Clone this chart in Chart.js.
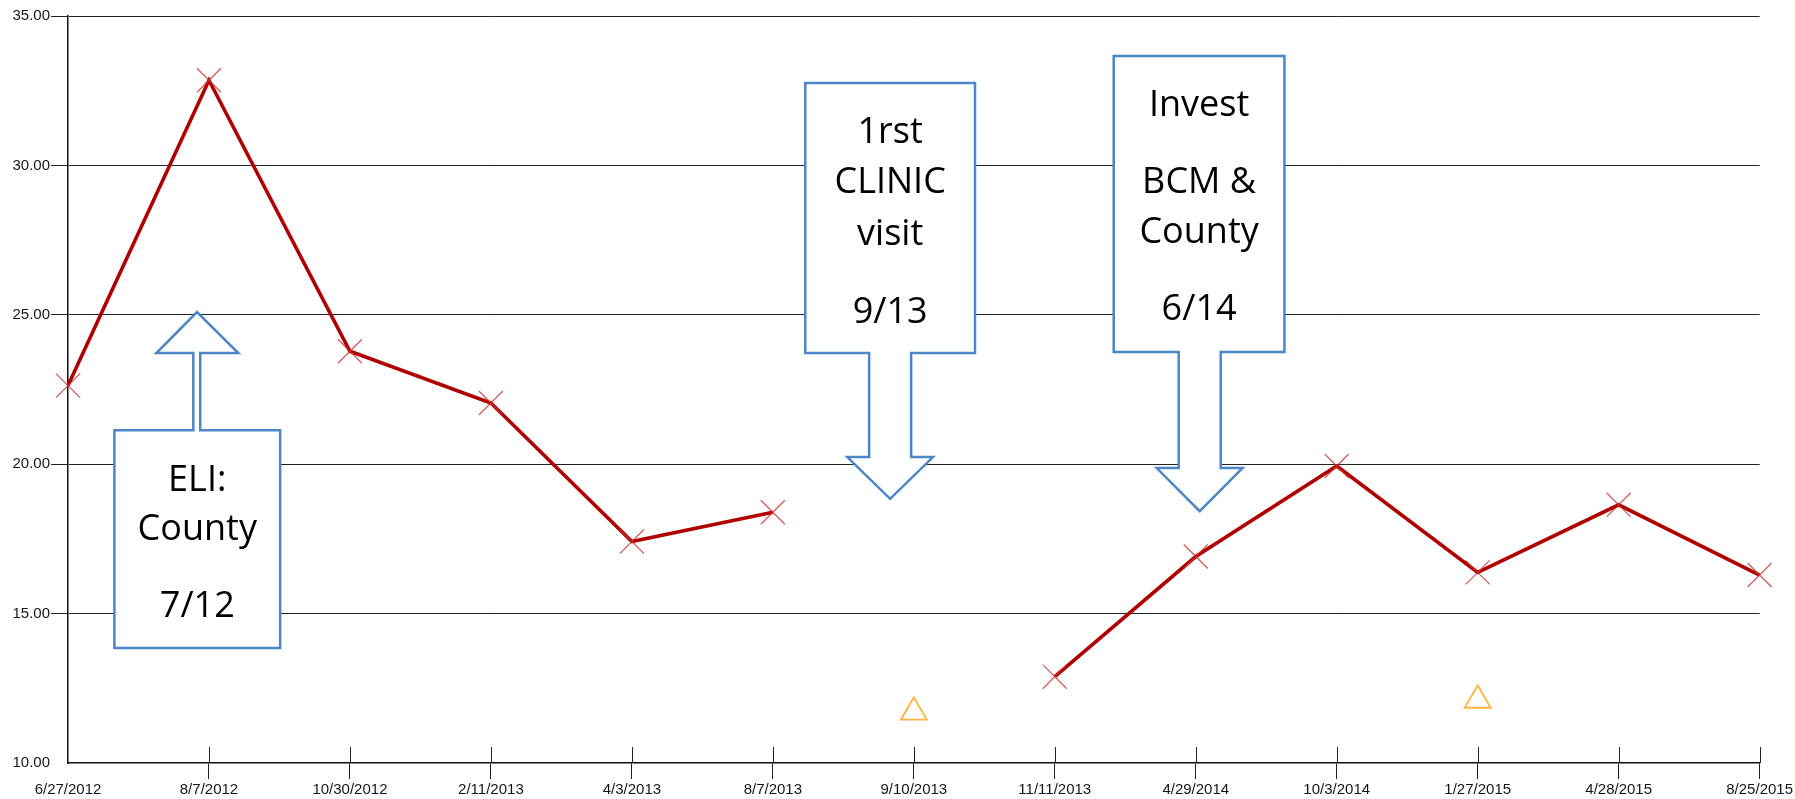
<!DOCTYPE html>
<html>
<head>
<meta charset="utf-8">
<script src="https://cdn.jsdelivr.net/npm/chart.js@4/dist/chart.umd.min.js"></script>
<style>
  html, body { margin: 0; padding: 0; background: #fff; }
  canvas { display: block; }
</style>
</head>
<body>
<canvas id="scoreChart" width="1795" height="799"></canvas>
<script>
const dates = ['6/27/2012', '8/7/2012', '10/30/2012', '2/11/2013', '4/3/2013', '8/7/2013', '9/10/2013',
               '11/11/2013', '4/29/2014', '10/3/2014', '1/27/2015', '4/28/2015', '8/25/2015'];
const scores = [22.63, 32.85, 23.78, 22.05, 17.41, 18.39, null, 12.89, 16.91, 19.94, 16.38, 18.64, 16.29];
const flags = [null, null, null, null, null, null, 11.7, null, null, null, 12.1, null, null];
const yTicks = [10, 15, 20, 25, 30, 35];

// callouts, placed in axis units (x = category index, y = value)
const callouts = [
  { dir: 'up', box: [0.329, 1.505, 21.14, 13.85], shaft: [0.889, 0.938], head: [0.627, 1.208, 23.72], tip: [0.915, 25.09],
    lines: [['ELI:', 19.10], ['County', 17.46], ['7/12', 14.89]] },
  { dir: 'down', box: [5.230, 6.434, 32.76, 23.72], shaft: [5.683, 5.981], head: [5.528, 6.136, 20.24], tip: [5.832, 18.84],
    lines: [['1rst', 30.74], ['CLINIC', 29.07], ['visit', 27.34], ['9/13', 24.72]] },
  { dir: 'down', box: [7.418, 8.629, 33.66, 23.755], shaft: [7.879, 8.177], head: [7.723, 8.332, 19.87], tip: [8.028, 18.43],
    lines: [['Invest', 31.65], ['BCM &', 29.07], ['County', 27.39], ['6/14', 24.83]] }
];

const calloutPlugin = {
  id: 'callouts',
  beforeDatasetsDraw(chart) {
    const { ctx, scales: { x, y } } = chart;
    const px = v => x.getPixelForValue(v);
    const py = v => y.getPixelForValue(v);
    callouts.forEach(c => {
      const [bx0, bx1, byTop, byBot] = c.box;
      const edge = c.dir === 'up' ? byTop : byBot;
      const far = c.dir === 'up' ? byBot : byTop;
      ctx.save();
      ctx.beginPath();
      ctx.moveTo(px(bx0), py(far));
      ctx.lineTo(px(bx1), py(far));
      ctx.lineTo(px(bx1), py(edge));
      ctx.lineTo(px(c.shaft[1]), py(edge));
      ctx.lineTo(px(c.shaft[1]), py(c.head[2]));
      ctx.lineTo(px(c.head[1]), py(c.head[2]));
      ctx.lineTo(px(c.tip[0]), py(c.tip[1]));
      ctx.lineTo(px(c.head[0]), py(c.head[2]));
      ctx.lineTo(px(c.shaft[0]), py(c.head[2]));
      ctx.lineTo(px(c.shaft[0]), py(edge));
      ctx.lineTo(px(bx0), py(edge));
      ctx.closePath();
      ctx.fillStyle = '#fff';
      ctx.fill();
      ctx.strokeStyle = '#4a86c8';
      ctx.lineWidth = 2.5;
      ctx.lineJoin = 'miter';
      ctx.stroke();

      ctx.fillStyle = '#000';
      ctx.font = '36px "Open Sans"';
      ctx.textAlign = 'center';
      ctx.textBaseline = 'alphabetic';
      const cx = (px(bx0) + px(bx1)) / 2;
      c.lines.forEach(([t, v]) => ctx.fillText(t, cx, py(v)));
      ctx.restore();
    });
  }
};

// tick marks on the date axis also reach up into the plot
const upperTicks = {
  id: 'upperTicks',
  afterDraw(chart) {
    const { ctx, scales: { x }, chartArea } = chart;
    ctx.save();
    ctx.strokeStyle = '#222';
    ctx.lineWidth = 1;
    ctx.beginPath();
    x.ticks.forEach((t, i) => {
      if (i === 0) return;
      const xp = Math.round(x.getPixelForTick(i)) + 0.5;
      ctx.moveTo(xp, chartArea.bottom);
      ctx.lineTo(xp, chartArea.bottom - 16);
    });
    ctx.stroke();
    ctx.restore();
  }
};

new Chart(document.getElementById('scoreChart'), {
  type: 'line',
  data: {
    labels: dates,
    datasets: [
      {
        data: scores,
        borderColor: '#b00000',
        borderWidth: 3.6,
        tension: 0,
        spanGaps: false,
        pointStyle: 'crossRot',
        pointRadius: 17,
        pointBorderColor: 'rgba(205, 50, 50, 0.8)',
        pointBorderWidth: 1.3,
        pointBackgroundColor: 'transparent'
      },
      {
        data: flags,
        showLine: false,
        pointStyle: 'triangle',
        pointRadius: 15,
        pointBorderColor: '#ffb43c',
        pointBorderWidth: 1.8,
        pointBackgroundColor: 'transparent'
      }
    ]
  },
  options: {
    responsive: false,
    animation: false,
    layout: { autoPadding: false, padding: { left: 0, top: 16, right: 33, bottom: 0 } },
    plugins: { legend: { display: false }, tooltip: { enabled: false } },
    scales: {
      x: {
        type: 'category',
        offset: false,
        afterFit: s => { s.height = 36; },
        grid: { drawOnChartArea: false, tickLength: 16, color: ctx => ctx.index === 0 ? 'transparent' : '#222' },
        border: { color: '#111', width: 1.5 },
        ticks: { color: '#151520', font: { family: '"Liberation Sans", Arial', size: 15 }, padding: 2, maxRotation: 0, autoSkip: false }
      },
      y: {
        min: 10,
        max: 35,
        afterFit: s => { s.width = 68; },
        afterBuildTicks: s => { s.ticks = yTicks.map(v => ({ value: v })); },
        grid: { color: ctx => ctx.tick && ctx.tick.value === 10 ? 'transparent' : '#222', tickLength: 17 },
        border: { color: '#111', width: 1.5 },
        ticks: { color: '#151520', font: { family: '"Liberation Sans", Arial', size: 15 }, padding: 1,
                 callback: v => v.toFixed(2) }
      }
    }
  },
  plugins: [calloutPlugin, upperTicks]
});
</script>
</body>
</html>
